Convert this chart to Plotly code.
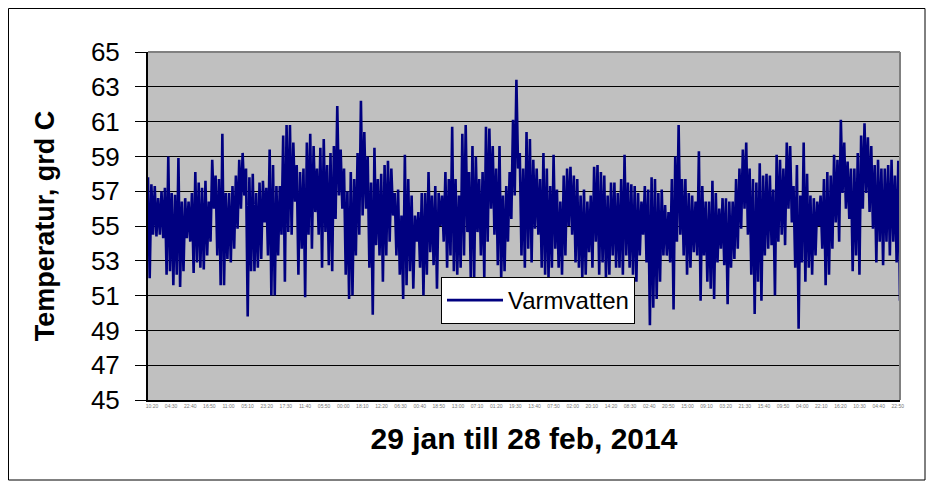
import pandas as pd
import plotly.graph_objects as go

# Upper and lower edge of the temperature band
temp_high = [
    57.8, 57.4, 57.3, 56.6, 57.0, 57.2, 59.0, 56.9, 56.8, 58.9, 56.4, 56.6, 56.4, 56.9, 58.1,
    57.5, 57.2, 57.6, 56.4, 58.8, 57.9, 57.7, 60.3, 56.9, 56.9, 57.3, 57.9, 58.8, 59.2, 58.3,
    57.8, 58.0, 56.9, 57.5, 57.6, 57.2, 59.4, 58.5, 57.3, 57.3, 60.2, 60.8, 60.8, 59.8, 58.5,
    58.1, 58.3, 59.8, 60.3, 59.6, 58.3, 59.5, 60.0, 58.5, 59.2, 59.6, 61.9, 59.4, 58.3, 57.0,
    58.1, 57.7, 59.2, 62.2, 60.4, 59.0, 57.5, 59.5, 57.7, 58.0, 58.5, 58.75, 58.3, 56.9, 57.1,
    55.6, 59.1, 57.7, 56.75, 55.6, 55.8, 56.9, 56.9, 58.1, 56.75, 57.3, 56.9, 56.75, 58.1, 57.7,
    60.7, 57.7, 56.75, 60.3, 60.8, 58.1, 59.6, 59.0, 57.7, 58.1, 60.7, 60.6, 59.6, 58.3, 59.6,
    56.75, 57.3, 58.1, 61.1, 63.4, 59.2, 58.3, 60.4, 60.0, 58.8, 58.3, 57.7, 59.2, 58.3, 57.3,
    59.1, 57.1, 56.4, 57.9, 58.3, 58.4, 57.9, 57.7, 56.75, 57.1, 56.4, 56.75, 58.4, 58.5, 58.1,
    57.9, 56.75, 57.5, 57.5, 56.9, 57.7, 59.1, 57.5, 57.4, 57.3, 56.9, 56.4, 57.3, 57.1, 57.8,
    57.7, 56.9, 57.1, 56.2, 55.8, 57.7, 59.0, 60.8, 57.7, 57.7, 56.9, 56.75, 56.4, 59.3, 57.3,
    56.4, 56.4, 57.6, 56.9, 56.0, 56.6, 56.6, 56.4, 56.4, 57.7, 58.3, 59.4, 59.8, 58.3, 57.7,
    57.5, 58.6, 57.9, 58.0, 57.9, 57.1, 59.1, 58.8, 58.3, 59.8, 59.6, 57.3, 58.5, 56.75, 59.8,
    58.0, 56.75, 56.6, 56.4, 56.75, 57.7, 58.1, 57.9, 59.1, 58.8, 61.1, 59.8, 58.7, 58.3, 58.3,
    59.2, 60.2, 60.9, 60.1, 59.6, 58.5, 58.8, 58.3, 58.3, 58.5, 58.8, 57.9, 58.75,
]
temp_low = [
    52.0, 54.5, 54.4, 54.5, 54.3, 52.2, 52.4, 51.6, 52.2, 51.5, 52.4, 54.3, 54.1, 52.3, 52.9,
    52.6, 52.5, 53.3, 54.1, 56.0, 53.3, 51.6, 51.6, 53.1, 52.9, 53.7, 54.85, 56.0, 56.75, 49.8,
    52.4, 52.4, 52.6, 53.1, 55.2, 53.3, 51.0, 51.0, 53.3, 54.5, 51.8, 54.65, 54.5, 56.4, 52.2,
    53.7, 50.9, 54.5, 53.7, 55.8, 54.5, 52.6, 54.65, 52.75, 52.4, 55.4, 56.75, 56.0, 52.2, 50.8,
    51.0, 53.3, 54.5, 55.6, 56.0, 52.6, 49.9, 53.9, 53.3, 51.8, 53.3, 54.1, 55.6, 53.3, 52.2,
    50.8, 51.6, 52.4, 51.4, 54.1, 52.6, 51.0, 52.2, 53.5, 52.75, 51.4, 55.0, 54.1, 52.6, 53.3,
    52.4, 52.2, 52.6, 53.3, 54.65, 52.0, 52.0, 54.65, 53.3, 52.0, 54.1, 56.0, 54.5, 52.75, 52.0,
    52.4, 54.1, 55.4, 56.75, 58.3, 53.3, 52.6, 53.7, 52.9, 54.85, 54.5, 52.6, 52.2, 52.0, 52.6,
    53.7, 52.6, 52.2, 53.3, 55.0, 54.5, 52.9, 52.6, 52.0, 52.2, 53.5, 52.6, 54.1, 52.2, 52.9,
    52.0, 52.2, 53.3, 52.6, 52.6, 52.2, 53.3, 52.6, 52.2, 51.8, 53.3, 54.5, 52.9, 49.3, 50.3,
    50.8, 51.8, 53.3, 53.3, 52.9, 50.2, 54.1, 54.5, 53.3, 52.2, 52.6, 53.5, 53.3, 50.7, 53.3,
    51.8, 51.4, 50.8, 52.9, 53.7, 52.75, 50.5, 52.6, 53.1, 53.7, 54.85, 56.0, 54.5, 52.2, 49.95,
    51.8, 50.7, 53.3, 53.7, 53.9, 51.0, 54.1, 54.5, 53.9, 56.0, 55.2, 52.6, 49.1, 52.9, 51.8,
    52.6, 52.2, 53.3, 55.0, 53.7, 51.6, 52.2, 53.7, 55.2, 54.1, 56.9, 56.0, 55.4, 52.4, 53.3,
    52.2, 56.0, 56.9, 55.8, 54.85, 52.9, 54.1, 52.75, 54.1, 53.3, 54.1, 52.9, 50.7,
]

# Category labels printed under the x axis (every 18 h 10 min from 29 jan 10:20)
tick_labels = [
    "10:20", "04:30", "22:40", "16:50", "11:00", "05:10", "23:20", "17:30", "11:40", "05:50",
    "00:00", "18:10", "12:20", "06:30", "00:40", "18:50", "13:00", "07:10", "01:20", "19:30",
    "13:40", "07:50", "02:00", "20:10", "14:20", "08:30", "02:40", "20:50", "15:00", "09:10",
    "03:20", "21:30", "15:40", "09:50", "04:00", "22:10", "16:20", "10:30", "04:40", "22:50",
]
period_start = "2014-01-29 06:32"
period_end = "2014-02-28 00:56"
first_tick = "2014-01-29 10:20"
tick_step = "1090min"

series_name = "Varmvatten"
x_title = "29 jan till 28 feb, 2014"
y_title = "Temperatur, grd C"
y_ticks = [45, 47, 49, 51, 53, 55, 57, 59, 61, 63, 65]

values = [v for pair in zip(temp_high, temp_low) for v in pair]
times = pd.date_range(period_start, period_end, periods=len(values))
tick_times = pd.date_range(first_tick, periods=len(tick_labels), freq=tick_step)

FONT = "Liberation Sans, Arial, sans-serif"

fig = go.Figure()
fig.add_trace(go.Scatter(
    x=times, y=values, mode="lines", name=series_name,
    line=dict(color="#000080", width=2.6), showlegend=True,
))

# page is drawn with an 8 px body margin, so the figure is sized/offset for that
OFF = 8
W, H = 934 - OFF, 484 - OFF
L, T = 148 - OFF, 52 - OFF
R, B = W - (900 - OFF), H - (400 - OFF)
pw, ph = W - L - R, H - T - B

def px(x):
    return (x - OFF - L) / pw

def py(y):
    return (H - B - (y - OFF)) / ph

fig.update_layout(
    width=W, height=H,
    margin=dict(l=L, r=R, t=T, b=B, pad=0),
    paper_bgcolor="white",
    plot_bgcolor="#C0C0C0",
    font=dict(family=FONT, color="black"),
    showlegend=True,
    legend=dict(
        x=px(441), y=py(277), xanchor="left", yanchor="top",
        bgcolor="white", bordercolor="black", borderwidth=1,
        font=dict(family=FONT, size=24, color="black"),
        itemwidth=56,
    ),
    xaxis=dict(
        type="date",
        range=[times[0], times[-1]],
        tickvals=tick_times, ticktext=tick_labels,
        tickfont=dict(family=FONT, size=5, color="#777777"),
        ticks="", showgrid=False, zeroline=False,
        showline=True, linecolor="black", linewidth=2,
        title=dict(text=x_title, font=dict(family=FONT, size=30, weight="bold"), standoff=20),
        automargin=False,
    ),
    yaxis=dict(
        range=[45, 65],
        tickvals=y_ticks,
        tickfont=dict(family=FONT, size=26, color="black"),
        ticks="outside", ticklen=11, tickcolor="black", tickwidth=1,
        ticklabelstandoff=10,
        showgrid=True, gridcolor="black", gridwidth=1, zeroline=False,
        showline=True, linecolor="black", linewidth=2,
        title=dict(text=y_title, font=dict(family=FONT, size=27, weight="bold"), standoff=28),
        automargin=False,
    ),
    shapes=[
        dict(type="rect", xref="paper", yref="paper",
             x0=px(8.5), x1=px(925), y0=py(480), y1=py(8.5),
             line=dict(color="black", width=1), fillcolor="rgba(0,0,0,0)", layer="above"),
        dict(type="line", xref="paper", yref="paper", x0=0, x1=1, y0=1, y1=1,
             line=dict(color="#808080", width=2), layer="above"),
        dict(type="line", xref="paper", yref="paper", x0=1, x1=1, y0=0, y1=1,
             line=dict(color="#808080", width=2), layer="above"),
    ],
)

fig.write_html("out.html")
